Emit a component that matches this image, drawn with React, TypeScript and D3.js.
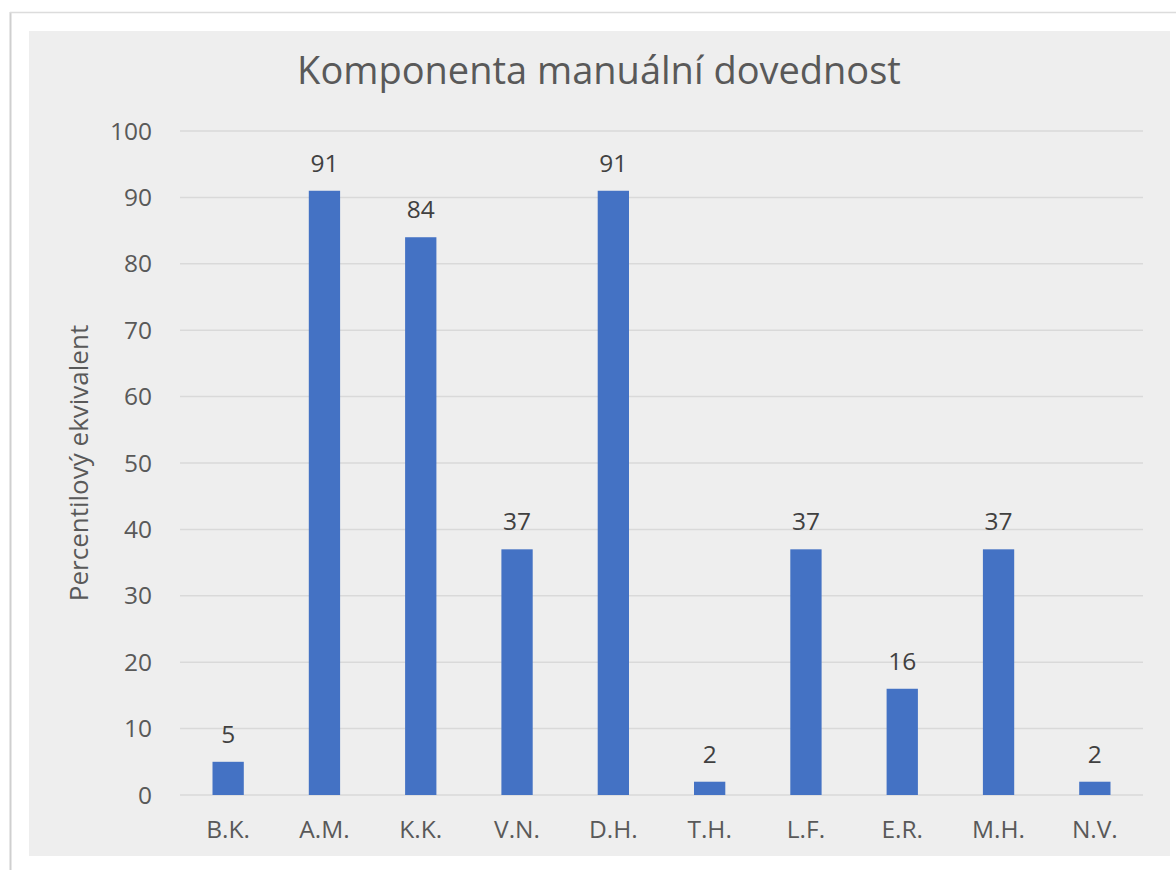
import * as React from 'react';
import * as d3 from 'd3';

const people = ['B.K.', 'A.M.', 'K.K.', 'V.N.', 'D.H.', 'T.H.', 'L.F.', 'E.R.', 'M.H.', 'N.V.'];
const percentile = [5, 91, 84, 37, 91, 2, 37, 16, 37, 2];
const yTicks = [0, 10, 20, 30, 40, 50, 60, 70, 80, 90, 100];

const chartTitle = 'Komponenta manuální dovednost';
const yTitle = 'Percentilový ekvivalent';

const font = '"Open Sans", "Noto Sans", sans-serif';

const App = () => {
  const width = 1176;
  const height = 870;

  const left = 180;
  const right = 1143;
  const top = 131;
  const bottom = 795;

  const x = d3.scaleBand<string>()
    .domain(people)
    .range([left, right])
    .paddingInner(0.675)
    .paddingOuter(0.3375);
  const y = d3.scaleLinear()
    .domain([0, 100])
    .range([bottom, top]);

  return (
    <>
      <style>{'body{margin:0}'}</style>
      <svg width={width} height={height} style={{ display: 'block', background: '#fff' }}>
        {/* outer frame */}
        <line x1={10.5} y1={12} x2={10.5} y2={height} stroke="#cfcfcf" strokeWidth={2} />
        <line x1={10} y1={12.5} x2={width} y2={12.5} stroke="#dcdcdc" strokeWidth={1.5} />
        <rect x={29} y={31} width={1141} height={825} fill="#eeeeee" />

        <text x={599} y={84} textAnchor="middle" fontFamily={font} fontSize={38} fill="#595959">
          {chartTitle}
        </text>

        {/* gridlines + y ticks */}
        {yTicks.map((t) => (
          <g key={t}>
            <line x1={left} x2={right} y1={y(t)} y2={y(t)} stroke="#d9d9d9" strokeWidth={1.5} />
            <text x={152} y={y(t)} dy="0.35em" textAnchor="end" fontFamily={font} fontSize={24.5} fill="#595959">
              {t}
            </text>
          </g>
        ))}

        <text
          transform={`translate(88, ${(top + bottom) / 2}) rotate(-90)`}
          textAnchor="middle"
          fontFamily={font}
          fontSize={26}
          fill="#595959"
        >
          {yTitle}
        </text>

        {/* bars */}
        {people.map((p, i) => (
          <g key={p}>
            <rect
              x={x(p)}
              y={y(percentile[i])}
              width={x.bandwidth()}
              height={y(0) - y(percentile[i])}
              fill="#4472c4"
            />
            <text
              x={(x(p) as number) + x.bandwidth() / 2}
              y={y(percentile[i]) - 19}
              textAnchor="middle"
              fontFamily={font}
              fontSize={24.5}
              fill="#404040"
            >
              {percentile[i]}
            </text>
            <text
              x={(x(p) as number) + x.bandwidth() / 2}
              y={838}
              textAnchor="middle"
              fontFamily={font}
              fontSize={24.5}
              fill="#595959"
            >
              {p}
            </text>
          </g>
        ))}
      </svg>
    </>
  );
};

export default App;
